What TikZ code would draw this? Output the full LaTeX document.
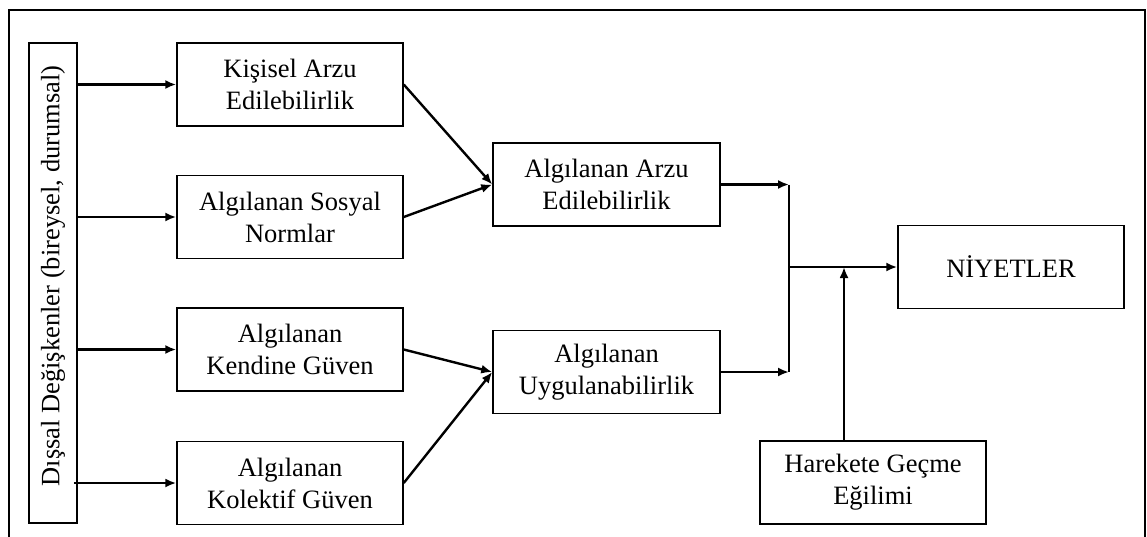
\documentclass[tikz,border=0pt]{standalone}
\usepackage{fontspec}
\setmainfont{Liberation Serif}
\usetikzlibrary{arrows.meta}
\begin{document}
\begin{tikzpicture}[x=1pt,y=-1pt,
 box/.style={draw,line width=1.5pt,align=center,inner sep=0pt,
   minimum width=226pt,minimum height=83pt,font=\fontsize{26.5}{32}\selectfont},
 arr/.style={line width=2.4pt,-{Latex[length=11pt,width=9pt]}},
 ln/.style={line width=2.4pt}]
\useasboundingbox (0,0) rectangle (1147,536);
\draw[line width=2pt] (9,545) -- (9,10) -- (1145,10) -- (1145,545);
% left tall box
\node[box,rotate=90,minimum width=480pt,minimum height=48pt] (d) at (53,283)
  {\hspace*{14pt}Dışsal Değişkenler (bireysel, durumsal)};
% first column
\node[box] (k) at (290,84.5) {Kişisel Arzu\\Edilebilirlik};
\node[box] (s) at (290,217) {Algılanan Sosyal\\Normlar};
\node[box] (g) at (290,349.5) {Algılanan\\Kendine Güven};
\node[box] (c) at (290,483) {Algılanan\\Kolektif Güven};
% second column
\node[box,minimum width=227pt] (a) at (606.5,184.5) {Algılanan Arzu\\Edilebilirlik};
\node[box,minimum width=227pt] (u) at (606.5,372) {Algılanan\\Uygulanabilirlik};
% right
\node[box] (n) at (1011,267) {NİYETLER};
\node[box] (h) at (873,482.5) {Harekete Geçme\\Eğilimi};
% arrows from left box
\draw[arr] (d.south |- k.west) -- (k.west);
\draw[arr] (d.south |- s.west) -- (s.west);
\draw[arr] (d.south |- g.west) -- (g.west);
\draw[arr] ([xshift=-4pt]d.south |- c.west) -- (c.west);
% diagonals
\draw[arr] (k.east) -- (a.west);
\draw[arr] (s.east) -- (a.west);
\draw[arr] (g.east) -- (u.west);
\draw[arr] (c.east) -- (u.west);
% junction
\coordinate (jt) at (789,184.5);
\coordinate (jb) at (789,372);
\coordinate (jm) at (789,267);
\draw[arr] (a.east) -- (jt);
\draw[arr] (u.east) -- (jb);
\draw[ln] (jt) -- (jb);
\draw[arr] (jm) -- (n.west);
\coordinate (hu) at ([xshift=-29pt]h.north);
\draw[arr] (hu) -- (hu |- jm);
\end{tikzpicture}
\end{document}
